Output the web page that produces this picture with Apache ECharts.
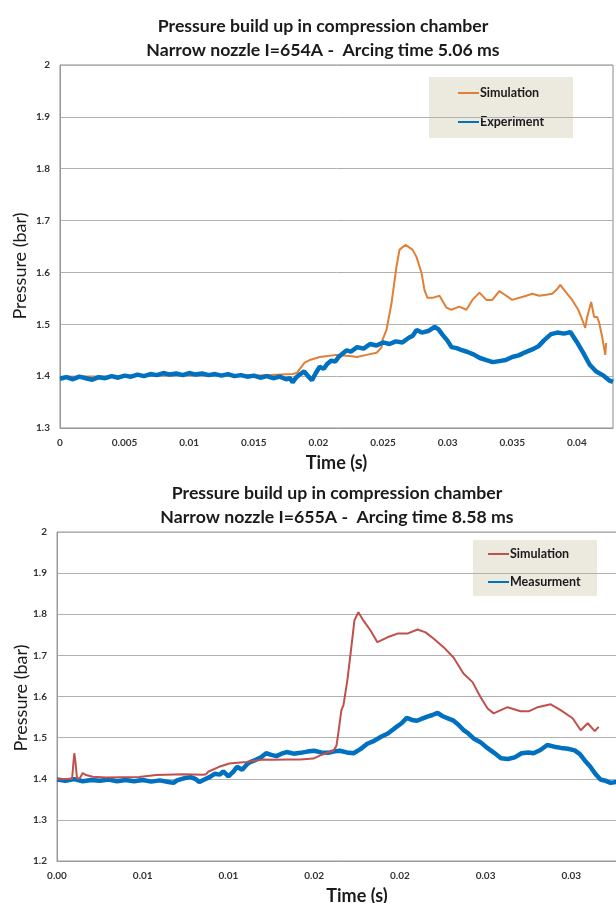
<!DOCTYPE html>
<html><head><meta charset="utf-8">
<script src="https://cdn.jsdelivr.net/npm/echarts@6/dist/echarts.min.js"></script>
<style>html,body{margin:0;padding:0;background:#fff}#c{width:616px;height:903px}</style>
</head><body><div id="c"></div>
<script>
// ---------- Chart 1 data (time s, pressure bar) ----------
const xTicks1 = ['0','0.005','0.01','0.015','0.02','0.025','0.03','0.035','0.04'];
const yTicks1 = ['1.3','1.4','1.5','1.6','1.7','1.8','1.9','2'];
const legend1 = ['Simulation','Experiment'];
const simulation1 = [
 [0,1.399],[0.005,1.400],[0.010,1.402],[0.015,1.401],[0.0180,1.404],[0.01832,1.406],[0.01893,1.426],
 [0.01932,1.431],[0.01986,1.435],[0.0201,1.437],[0.0214,1.441],[0.02241,1.439],[0.0230,1.437],
 [0.02373,1.441],[0.0245,1.445],[0.02488,1.455],[0.02496,1.470],[0.02527,1.489],[0.02566,1.541],
 [0.02604,1.611],[0.02628,1.644],[0.02674,1.653],[0.02728,1.644],[0.02759,1.630],[0.02798,1.599],
 [0.02821,1.566],[0.02844,1.551],[0.02883,1.551],[0.02937,1.555],[0.02991,1.532],[0.03029,1.528],
 [0.03091,1.534],[0.03145,1.528],[0.03192,1.547],[0.03246,1.561],[0.0330,1.547],[0.03346,1.547],
 [0.0340,1.564],[0.03454,1.555],[0.0350,1.547],[0.03609,1.555],[0.03655,1.559],[0.03709,1.555],
 [0.03764,1.557],[0.0381,1.559],[0.03841,1.566],[0.03872,1.576],[0.03918,1.561],[0.03964,1.547],
 [0.04011,1.528],[0.04034,1.514],[0.04065,1.493],[0.0408,1.514],[0.04111,1.543],[0.04134,1.514],
 [0.04158,1.514],[0.04173,1.503],[0.04196,1.476],[0.0422,1.441],[0.04227,1.464]
];
const experiment1 = [
 [0,1.395],[0.0005,1.398],[0.0010,1.394],[0.0015,1.399],[0.0020,1.396],[0.0025,1.393],[0.0030,1.398],
 [0.0035,1.396],[0.0040,1.400],[0.0045,1.397],[0.0050,1.401],[0.0055,1.399],[0.0060,1.403],[0.0065,1.400],
 [0.0070,1.404],[0.0075,1.402],[0.0080,1.406],[0.0085,1.403],[0.0090,1.405],[0.0095,1.402],[0.0100,1.406],
 [0.0105,1.403],[0.0110,1.405],[0.0115,1.402],[0.0120,1.404],[0.0125,1.401],[0.0130,1.404],[0.0135,1.400],
 [0.0140,1.402],[0.0145,1.399],[0.0150,1.401],[0.0155,1.397],[0.0160,1.400],[0.0165,1.396],[0.0170,1.399],
 [0.0175,1.394],[0.0178,1.396],[0.0180,1.388],[0.0183,1.398],[0.0186,1.404],[0.0189,1.409],[0.0192,1.400],
 [0.0195,1.392],[0.0198,1.406],[0.0201,1.418],[0.0204,1.414],[0.0207,1.424],[0.0210,1.430],[0.0213,1.428],
 [0.0216,1.438],[0.0219,1.444],[0.0222,1.450],[0.0225,1.447],[0.0230,1.456],[0.0235,1.453],[0.0240,1.462],
 [0.0245,1.459],[0.0250,1.465],[0.0255,1.462],[0.0260,1.467],[0.0265,1.465],[0.0270,1.474],[0.0273,1.478],
 [0.0276,1.489],[0.0280,1.484],[0.0285,1.487],[0.0290,1.495],[0.0293,1.490],[0.0296,1.480],[0.0300,1.468],
 [0.0303,1.456],[0.0307,1.454],[0.0311,1.450],[0.0315,1.447],[0.0320,1.442],[0.0325,1.435],[0.0330,1.431],
 [0.0335,1.427],[0.0340,1.429],[0.0345,1.431],[0.0350,1.437],[0.0355,1.440],[0.0360,1.446],[0.0365,1.451],
 [0.0370,1.457],[0.0375,1.470],[0.0380,1.481],[0.0385,1.484],[0.0390,1.482],[0.0395,1.485],[0.0400,1.466],
 [0.0405,1.445],[0.0410,1.422],[0.0415,1.409],[0.0420,1.402],[0.0425,1.392],[0.0428,1.389]
];
// ---------- Chart 2 data ----------
const xTicks2 = ['0.00','0.01','0.01','0.02','0.02','0.03','0.03','0.04'];
const yTicks2 = ['1.2','1.3','1.4','1.5','1.6','1.7','1.8','1.9','2'];
const legend2 = ['Simulation','Measurment'];
const simulation2 = [
 [0,1.399],[0.00088,1.400],[0.00096,1.440],[0.00101,1.462],[0.00108,1.440],[0.00117,1.400],[0.00134,1.402],
 [0.0015,1.414],[0.00169,1.409],[0.00209,1.405],[0.00286,1.403],[0.00479,1.404],[0.00578,1.409],
 [0.00736,1.411],[0.00853,1.410],[0.0087,1.411],[0.00882,1.417],[0.00946,1.429],[0.01005,1.437],
 [0.01104,1.441],[0.01203,1.447],[0.01262,1.446],[0.01355,1.447],[0.01419,1.447],[0.01495,1.449],
 [0.01536,1.457],[0.01612,1.468],[0.0163,1.480],[0.01641,1.511],[0.01659,1.567],[0.01671,1.579],
 [0.01694,1.640],[0.01717,1.720],[0.01735,1.785],[0.01758,1.805],[0.01787,1.785],[0.01828,1.761],
 [0.01869,1.732],[0.01928,1.744],[0.01986,1.753],[0.02044,1.753],[0.02103,1.763],[0.0215,1.756],
 [0.02196,1.741],[0.02255,1.720],[0.02313,1.695],[0.02371,1.656],[0.02424,1.635],[0.02471,1.598],
 [0.02512,1.571],[0.02547,1.559],[0.02628,1.574],[0.02704,1.564],[0.02751,1.564],[0.02804,1.574],
 [0.0288,1.581],[0.02938,1.567],[0.03008,1.547],[0.03055,1.518],[0.03096,1.535],[0.03137,1.516],[0.0316,1.526]
];
const measurement2 = [
 [0,1.398],[0.0005,1.395],[0.0010,1.399],[0.0015,1.394],[0.0020,1.397],[0.0025,1.395],[0.0030,1.398],
 [0.0035,1.394],[0.0040,1.397],[0.0045,1.394],[0.0050,1.397],[0.0055,1.393],[0.0060,1.396],[0.0065,1.392],
 [0.0068,1.390],[0.0070,1.396],[0.0074,1.401],[0.0078,1.404],[0.0081,1.399],[0.0083,1.392],[0.0086,1.398],
 [0.0089,1.404],[0.0092,1.412],[0.0095,1.410],[0.0097,1.418],[0.0100,1.406],[0.0103,1.418],[0.0105,1.429],
 [0.0108,1.422],[0.0111,1.436],[0.0113,1.441],[0.0116,1.446],[0.0119,1.452],[0.0122,1.462],[0.0125,1.458],
 [0.0128,1.455],[0.0131,1.461],[0.0134,1.465],[0.0138,1.461],[0.0142,1.463],[0.0146,1.466],[0.0150,1.468],
 [0.0154,1.464],[0.0158,1.463],[0.0162,1.467],[0.0165,1.468],[0.0169,1.464],[0.0173,1.462],[0.0177,1.472],
 [0.0181,1.485],[0.0185,1.492],[0.0189,1.502],[0.0193,1.510],[0.0197,1.523],[0.0201,1.535],[0.0204,1.548],
 [0.0207,1.543],[0.0210,1.541],[0.0213,1.546],[0.0216,1.551],[0.0219,1.555],[0.0222,1.560],[0.0225,1.552],
 [0.0228,1.547],[0.0231,1.542],[0.0234,1.532],[0.0237,1.519],[0.0240,1.510],[0.0243,1.498],[0.0247,1.489],
 [0.0251,1.475],[0.0255,1.463],[0.0259,1.450],[0.0263,1.448],[0.0267,1.452],[0.0271,1.462],[0.0275,1.464],
 [0.0278,1.462],[0.0282,1.470],[0.0286,1.482],[0.0290,1.478],[0.0294,1.475],[0.0298,1.473],[0.0302,1.469],
 [0.0305,1.460],[0.0308,1.444],[0.0311,1.430],[0.0314,1.412],[0.0317,1.398],[0.0320,1.395],[0.0323,1.390],
 [0.0327,1.393]
];

const FONT = 'Lato, "Liberation Sans", sans-serif';
const TXT = '#1a1a1a';
const ORANGE = '#E07F35', BLUE = '#0070C0', RED = '#C0504D';

const chart = echarts.init(document.getElementById('c'), null, {renderer: 'canvas'});

function xAxisCfg(idx, max, ticks, nameGap) {
  return {
    type: 'value', gridIndex: idx, min: 0, max: max, interval: 0.005,
    name: 'Time (s)', nameLocation: 'middle', nameGap: nameGap,
    nameTextStyle: {fontFamily: FONT, fontWeight: 'bold', fontSize: 18, color: TXT},
    axisLine: {show: true, lineStyle: {color: '#9a9a9a', width: 1}},
    axisTick: {show: false},
    axisLabel: {fontFamily: FONT, fontWeight: 'bold', fontSize: 10, color: '#333', margin: 10,
      formatter: v => { const i = Math.round(v / 0.005); return ticks[i] !== undefined ? ticks[i] : ''; }},
    splitLine: {show: false}
  };
}
function yAxisCfg(idx, min, ticks) {
  return {
    type: 'value', gridIndex: idx, min: min, max: 2, interval: 0.1,
    axisLine: {show: true, lineStyle: {color: '#9a9a9a', width: 1}},
    axisTick: {show: false},
    axisLabel: {fontFamily: FONT, fontWeight: 'bold', fontSize: 10, color: '#333', margin: 10,
      formatter: v => { const i = Math.round((v - min) / 0.1); return ticks[i] !== undefined ? ticks[i] : ''; }},
    splitLine: {show: true, lineStyle: {color: '#b0b0b0', width: 1}}
  };
}
function legendItems(x0, y0, gap, names, colors) {
  const out = [];
  names.forEach((n, i) => {
    const y = y0 + i * gap;
    out.push({type: 'line', shape: {x1: x0, y1: y, x2: x0 + 21, y2: y}, style: {stroke: colors[i], lineWidth: 2}});
    out.push({type: 'text', x: x0 + 22, y: y,
      style: {text: n, font: 'bold 12.5px ' + FONT, fill: TXT, textAlign: 'left', textVerticalAlign: 'middle'}});
  });
  return out;
}

chart.setOption({
  animation: false,
  backgroundColor: '#fff',
  title: [
    {text: 'Pressure build up in compression chamber\nNarrow nozzle I=654A -  Arcing time 5.06 ms',
     left: 318, top: 9, textAlign: 'center',
     textStyle: {fontFamily: FONT, fontWeight: 'bold', fontSize: 17.7, color: TXT, lineHeight: 24}},
    {text: 'Pressure build up in compression chamber\nNarrow nozzle I=655A -  Arcing time 8.58 ms',
     left: 332, top: 476, textAlign: 'center',
     textStyle: {fontFamily: FONT, fontWeight: 'bold', fontSize: 17.7, color: TXT, lineHeight: 24}}
  ],
  grid: [
    {left: 60, top: 65, width: 553, height: 363, show: true, borderColor: '#8a8a8a', borderWidth: 1,
     outerBoundsMode: 'none', containLabel: false},
    {left: 57, top: 532, width: 600, height: 329, show: true, borderColor: '#9a9a9a', borderWidth: 1,
     outerBoundsMode: 'none', containLabel: false}
  ],
  xAxis: [xAxisCfg(0, 0.0428, xTicks1, 26), xAxisCfg(1, 0.035, xTicks2, 26)],
  yAxis: [yAxisCfg(0, 1.3, yTicks1), yAxisCfg(1, 1.2, yTicks2)],
  graphic: [
    {type: 'rect', z: -1, shape: {x: 429, y: 77, width: 144, height: 61}, style: {fill: '#ECE9DF'}},
    {type: 'rect', z: -1, shape: {x: 473, y: 540, width: 124, height: 56}, style: {fill: '#ECE9DF'}},
    ...legendItems(458, 93, 29, legend1, [ORANGE, BLUE]),
    ...legendItems(488, 554, 28, legend2, [RED, BLUE]),
    {type: 'text', x: 20, y: 266, rotation: Math.PI / 2,
     style: {text: 'Pressure (bar)', font: '18px ' + FONT, fill: TXT, textAlign: 'center', textVerticalAlign: 'middle'}},
    {type: 'text', x: 21, y: 698, rotation: Math.PI / 2,
     style: {text: 'Pressure (bar)', font: '18px ' + FONT, fill: TXT, textAlign: 'center', textVerticalAlign: 'middle'}}
  ],
  series: [
    {name: 'Simulation', type: 'line', xAxisIndex: 0, yAxisIndex: 0, data: simulation1, symbol: 'none',
     lineStyle: {color: ORANGE, width: 2}, itemStyle: {color: ORANGE}},
    {name: 'Experiment', type: 'line', xAxisIndex: 0, yAxisIndex: 0, data: experiment1, symbol: 'none',
     lineStyle: {color: BLUE, width: 4.5}, itemStyle: {color: BLUE}},
    {name: 'Measurment', type: 'line', xAxisIndex: 1, yAxisIndex: 1, data: measurement2, symbol: 'none',
     lineStyle: {color: BLUE, width: 4.5}, itemStyle: {color: BLUE}},
    {name: 'Simulation (655A)', type: 'line', xAxisIndex: 1, yAxisIndex: 1, data: simulation2, symbol: 'none',
     lineStyle: {color: RED, width: 2}, itemStyle: {color: RED}}
  ]
});
</script></body></html>
